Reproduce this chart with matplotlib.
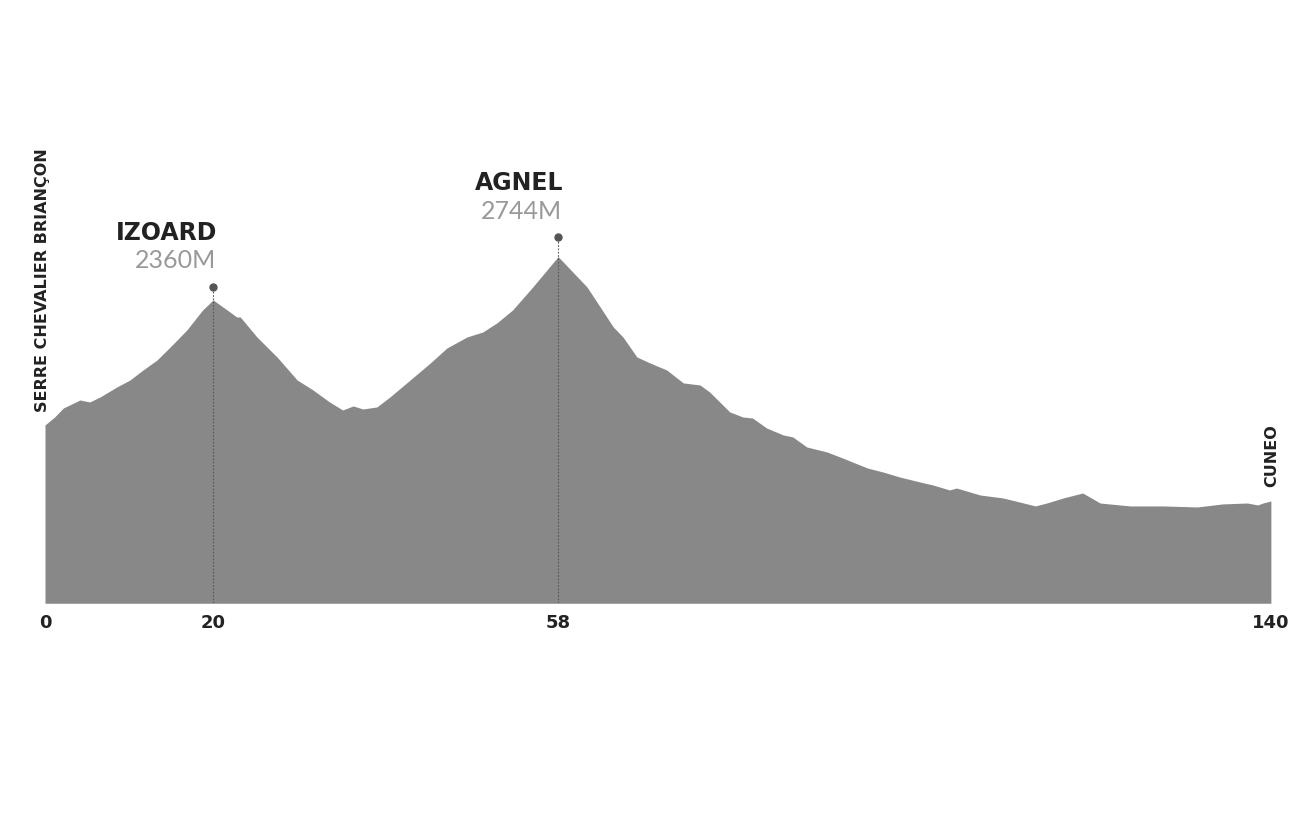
import matplotlib
matplotlib.use('Agg')
import matplotlib.pyplot as plt

# profil de l'étape : distance (km) / altitude (m)
km = [0, 1.1, 2.1, 4.0, 5.1, 6.3, 8.2, 9.7, 11.2, 12.8, 14.3, 16.2, 18.0, 19.2,
      20.8, 21.9, 22.3, 24.2, 26.5, 28.8, 30.6, 32.5, 34.0, 35.2, 36.3, 37.9,
      39.4, 41.7, 44.0, 45.9, 48.2, 50.0, 51.6, 53.4, 55.7, 58.6, 61.9, 63.4,
      64.9, 66.0, 67.6, 69.1, 71.0, 72.9, 74.8, 75.9, 78.2, 79.7, 80.8, 82.4,
      84.3, 85.4, 87.0, 89.3, 91.1, 93.9, 95.7, 97.6, 99.9, 101.4, 103.3,
      104.1, 106.8, 109.4, 111.3, 113.1, 114.4, 116.3, 118.5, 120.5, 123.9,
      127.7, 131.6, 134.5, 137.3, 138.5, 139.1, 140]
alt = [1251, 1322, 1402, 1473, 1455, 1500, 1588, 1650, 1739, 1828, 1943, 2094,
       2271, 2360, 2271, 2209, 2209, 2032, 1854, 1650, 1562, 1455, 1384, 1420,
       1393, 1411, 1500, 1650, 1801, 1934, 2032, 2076, 2156, 2271, 2475, 2744,
       2475, 2298, 2120, 2032, 1854, 1801, 1739, 1624, 1606, 1544, 1367, 1322,
       1313, 1225, 1163, 1145, 1056, 1012, 958, 870, 834, 790, 746, 719, 675,
       692, 630, 604, 568, 533, 559, 604, 648, 559, 533, 533, 524, 551, 559,
       542, 559, 577]

# cols
col_names = ['IZOARD', 'AGNEL']
col_km = [19.2, 58.6]
col_alt = [2360, 2744]
col_labels = ['2360M', '2744M']
col_ticks = ['20', '58']

depart = 'SERRE CHEVALIER BRIANÇON'
arrivee = 'CUNEO'

plt.rcParams['font.family'] = ['Lato', 'DejaVu Sans']
bold_font = ['DejaVu Sans']

fig = plt.figure(figsize=(13, 8.17), dpi=100)
ax = fig.add_axes([0.0346, 0.2619, 0.943, 0.5545])

ax.fill_between(km, alt, -330, color='#888888', linewidth=0)
ax.set_xlim(0, 140)
ax.set_ylim(-328, 3690)

# traits pointillés + points au-dessus des cols
dot_off = [13, 20]   # en pixels
for i in range(len(col_km)):
    top = col_alt[i] + dot_off[i] * 8.87
    ax.plot([col_km[i], col_km[i]], [-328, top], color='#555555',
            linestyle=(0, (1.5, 1.5)), linewidth=0.8)
    ax.plot(col_km[i], top, 'o', color='#555555', markersize=5)

name_off = [(4, 60), (5, 67)]
alt_off = [(3, 32), (4, 38)]
for i in range(len(col_km)):
    ax.annotate(col_names[i], xy=(col_km[i], col_alt[i]), xytext=name_off[i],
                textcoords='offset pixels', ha='right', va='baseline',
                fontsize=17, fontweight='bold', color='#222222',
                family=bold_font)
    ax.annotate(col_labels[i], xy=(col_km[i], col_alt[i]), xytext=alt_off[i],
                textcoords='offset pixels', ha='right', va='baseline',
                fontsize=18, fontweight='normal', color='#999999')

# départ / arrivée
ax.annotate(depart, xy=(km[0], alt[0]), xytext=(-2, 13),
            textcoords='offset pixels', rotation=90, ha='center', va='bottom',
            fontsize=11.5, fontweight='bold', color='#222222', family=bold_font)
ax.annotate(arrivee, xy=(km[-1], alt[-1]), xytext=(1, 14),
            textcoords='offset pixels', rotation=90, ha='center', va='bottom',
            fontsize=11.5, fontweight='bold', color='#222222', family=bold_font)

ax.set_xticks([0] + col_km + [140])
ax.set_xticklabels(['0'] + col_ticks + ['140'], fontsize=13, fontweight='bold',
                   color='#222222', family=bold_font)
ax.tick_params(axis='x', length=0, pad=8)
ax.set_yticks([])
for s in ax.spines.values():
    s.set_visible(False)

fig.savefig('out.png', dpi=100, facecolor='white')
